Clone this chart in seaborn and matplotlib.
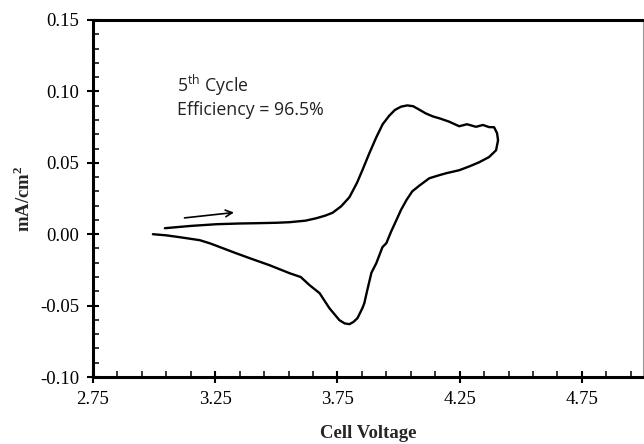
import matplotlib
matplotlib.use("Agg")
import matplotlib.pyplot as plt
from matplotlib.ticker import AutoMinorLocator, FixedLocator, FixedFormatter
import seaborn as sns
import pandas as pd

# Forward scan (upper branch)
fwd_v = [3.044, 3.150, 3.256, 3.350, 3.419, 3.500, 3.554, 3.620, 3.664, 3.700,
         3.730, 3.765, 3.799, 3.830, 3.852, 3.880, 3.909, 3.935, 3.962, 3.985,
         4.010, 4.036, 4.060, 4.085, 4.110, 4.140, 4.170, 4.207, 4.248, 4.280,
         4.317, 4.345, 4.370, 4.391, 4.403, 4.407]
fwd_i = [0.0042, 0.0058, 0.0070, 0.0075, 0.0077, 0.0080, 0.0084, 0.0095, 0.0112, 0.0130,
         0.0150, 0.0195, 0.0259, 0.0360, 0.0448, 0.0565, 0.0679, 0.0770, 0.0830, 0.0870,
         0.0893, 0.0902, 0.0896, 0.0872, 0.0847, 0.0825, 0.0810, 0.0788, 0.0756, 0.0770,
         0.0752, 0.0765, 0.0750, 0.0749, 0.0707, 0.0658]
# Reverse scan (lower branch)
rev_v = [4.399, 4.370, 4.330, 4.290, 4.248, 4.195, 4.166, 4.126, 4.085, 4.056,
         4.032, 4.010, 3.991, 3.970, 3.950, 3.934, 3.909, 3.889, 3.872, 3.860,
         3.852, 3.832, 3.815, 3.799, 3.780, 3.758, 3.717, 3.677, 3.636, 3.600,
         3.554, 3.513, 3.472, 3.391, 3.330, 3.281, 3.230, 3.187, 3.105, 3.050, 2.995]
rev_i = [0.0588, 0.0540, 0.0504, 0.0475, 0.0448, 0.0427, 0.0413, 0.0392, 0.0340, 0.0300,
         0.0238, 0.0170, 0.0098, 0.0020, -0.0063, -0.0091, -0.0203, -0.0270, -0.0392, -0.0483,
         -0.0518, -0.0588, -0.0615, -0.0630, -0.0625, -0.0602, -0.0518, -0.0413, -0.0357, -0.0300,
         -0.0273, -0.0245, -0.0217, -0.0168, -0.0130, -0.0098, -0.0065, -0.0042, -0.0021, -0.0008, 0.0000]

x_ticks = [2.75, 3.25, 3.75, 4.25, 4.75]
x_tick_labels = ["2.75", "3.25", "3.75", "4.25", "4.75"]
y_ticks = [-0.10, -0.05, 0.00, 0.05, 0.10, 0.15]
y_tick_labels = ["-0.10", "-0.05", "0.00", "0.05", "0.10", "0.15"]

df = pd.DataFrame({"V": fwd_v + rev_v, "I": fwd_i + rev_i})

sns.set_style("ticks")
plt.rcParams["font.family"] = ["Liberation Serif", "DejaVu Serif"]
plt.rcParams["mathtext.fontset"] = "custom"
plt.rcParams["mathtext.rm"] = "Open Sans"
plt.rcParams["mathtext.bf"] = "Liberation Serif:bold"

fig = plt.figure(figsize=(6.44, 4.44), dpi=100)
ax = fig.add_axes([93 / 644, 1 - 377 / 444, 550 / 644, 357 / 444])

sns.lineplot(data=df, x="V", y="I", sort=False, estimator=None, color="black",
             linewidth=1.7, ax=ax)

ax.set_xlim(2.75, 5.0)
ax.set_ylim(-0.10, 0.15)
ax.xaxis.set_major_locator(FixedLocator(x_ticks))
ax.xaxis.set_major_formatter(FixedFormatter(x_tick_labels))
ax.yaxis.set_major_locator(FixedLocator(y_ticks))
ax.yaxis.set_major_formatter(FixedFormatter(y_tick_labels))
ax.xaxis.set_minor_locator(AutoMinorLocator(5))
ax.yaxis.set_minor_locator(AutoMinorLocator(5))

ax.tick_params(axis="both", which="major", direction="inout", length=8, width=1.5,
               labelsize=13.5, colors="black", pad=6)
ax.tick_params(axis="both", which="minor", direction="in", length=4, width=1.3)
ax.tick_params(axis="x", which="both", top=False)
ax.tick_params(axis="y", which="both", right=False)

for s in ["left", "bottom", "top"]:
    ax.spines[s].set_linewidth(2.2)
    ax.spines[s].set_color("black")
ax.spines["right"].set_visible(True)
ax.spines["right"].set_linewidth(0.8)
ax.spines["right"].set_color("#999999")

ax.set_xlabel("Cell Voltage", fontsize=13.5, fontweight="bold", labelpad=12)
ax.set_ylabel("mA/cm$^\\mathbf{2}$", fontsize=13.5, fontweight="bold", labelpad=4)

ax.annotate("", xy=(3.338, 0.0154), xytext=(3.113, 0.0112),
            arrowprops=dict(arrowstyle="->", color="black", lw=1.2,
                            mutation_scale=12))

ax.text(3.093, 0.104, "5$^{\\mathrm{th}}$ Cycle", fontsize=12.8, va="center", ha="left",
        family=["Open Sans", "DejaVu Sans"], color="#222222")
ax.text(3.093, 0.0868, "Efficiency = 96.5%", fontsize=12.8, va="center", ha="left",
        family=["Open Sans", "DejaVu Sans"], color="#222222")

fig.savefig("out.png", dpi=100)
